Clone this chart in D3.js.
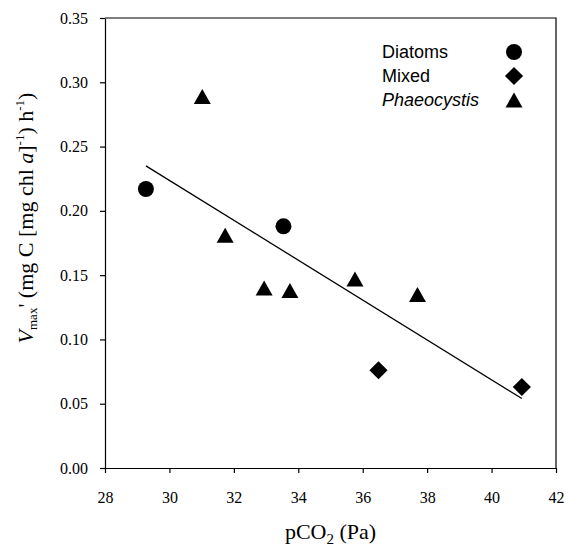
<!DOCTYPE html>
<html>
<head>
<meta charset="utf-8">
<script src="https://cdn.jsdelivr.net/npm/d3@7"></script>
<style>
  body { margin: 0; background: #fff; }
  svg { display: block; }
</style>
</head>
<body>
<div id="chart"></div>
<script>

  // values
  var diatomsX = [29.27, 33.54];
  var diatomsY = [0.217, 0.188];
  var mixedX = [36.49, 40.94];
  var mixedY = [0.076, 0.063];
  var phaeoX = [31.02, 31.73, 32.94, 33.74, 35.76, 37.70];
  var phaeoY = [0.289, 0.181, 0.140, 0.138, 0.147, 0.135];
  var fitX = [29.27, 40.94];
  var fitY = [0.235, 0.054];

  var xTicks = [28, 30, 32, 34, 36, 38, 40, 42];
  var yTicks = [0, 0.05, 0.10, 0.15, 0.20, 0.25, 0.30, 0.35];
  var legendLabels = ["Diatoms", "Mixed", "Phaeocystis"];

  var serif = "'Liberation Serif', 'Times New Roman', serif";

  var width = 566, height = 547;
  var margin = { top: 18, right: 10, bottom: 79, left: 105 };
  var iwidth = width - margin.left - margin.right,
      iheight = height - margin.top - margin.bottom;

  var svg = d3.select("#chart")
    .append("svg")
    .attr("width", width)
    .attr("height", height);

  var g = svg.append("g")
    .attr("transform", `translate(${margin.left}, ${margin.top})`);

  var x = d3.scaleLinear().domain([28, 42]).range([0, iwidth]);
  var y = d3.scaleLinear().domain([0, 0.35]).range([iheight, 0]);

  // frame (top + right)
  g.append("path")
    .attr("d", `M0,0H${iwidth}V${iheight}`)
    .attr("fill", "none")
    .attr("stroke", "#000")
    .attr("stroke-width", 1.2);

  //=========================================================================
  // Axes
  //=========================================================================
  var xAxis = g.append("g")
    .attr("transform", `translate(0, ${iheight})`)
    .call(d3.axisBottom(x).tickValues(xTicks).tickSize(5).tickSizeOuter(0).tickPadding(19));

  var yAxis = g.append("g")
    .call(d3.axisLeft(y).tickValues(yTicks).tickSize(5).tickSizeOuter(0).tickPadding(12)
      .tickFormat(d3.format(".2f")));

  [xAxis, yAxis].forEach(function(a){
    a.attr("font-family", null).attr("font-size", null);
    a.selectAll("path, line").attr("stroke", "#000").attr("stroke-width", 1.2);
    a.selectAll("text")
      .attr("fill", "#000")
      .style("font-family", serif)
      .style("font-size", "16px");
  });

  //=========================================================================
  // Symbols
  //=========================================================================
  function trianglePath(s, h){
    return `M0,${-h/2}L${s/2},${h/2}L${-s/2},${h/2}Z`;
  }
  var circlePath = d3.symbol().type(d3.symbolCircle).size(Math.PI * 64)();
  var diamondPath = d3.symbol().type(d3.symbolSquare).size(165)();
  var triPath = trianglePath(17, 15);

  function drawSymbols(xs, ys, kind){
    var pts = xs.map(function(v, i){ return [v, ys[i]]; });
    g.append("g").selectAll("path")
      .data(pts)
      .enter()
      .append("path")
      .attr("d", kind == "circle" ? circlePath : kind == "diamond" ? diamondPath : triPath)
      .attr("transform", function(d){
        var t = `translate(${x(d[0])}, ${y(d[1])})`;
        return kind == "diamond" ? t + " rotate(45)" : t;
      })
      .attr("fill", "#000");
  }

  // regression line
  var fit = fitX.map(function(v, i){ return [v, fitY[i]]; });
  g.append("path")
    .datum(fit)
    .attr("d", d3.line().x(function(d){ return x(d[0]); }).y(function(d){ return y(d[1]); }))
    .attr("stroke", "#000")
    .attr("stroke-width", 1.3)
    .attr("fill", "none");

  drawSymbols(diatomsX, diatomsY, "circle");
  drawSymbols(mixedX, mixedY, "diamond");
  drawSymbols(phaeoX, phaeoY, "triangle");

  //=========================================================================
  // Legend
  //=========================================================================
  var legend = svg.append("g");
  var legendKinds = ["circle", "diamond", "triangle"];
  legendLabels.forEach(function(lab, i){
    var yy = 58 + i * 24;
    legend.append("text")
      .attr("x", 382)
      .attr("y", yy)
      .attr("font-family", "Liberation Sans, Arial, sans-serif")
      .attr("font-size", 18)
      .attr("font-style", i == 2 ? "italic" : "normal")
      .text(lab);
    var k = legendKinds[i];
    legend.append("path")
      .attr("d", k == "circle" ? circlePath : k == "diamond" ? diamondPath : triPath)
      .attr("transform", `translate(514, ${yy - 6})` + (k == "diamond" ? " rotate(45)" : ""))
      .attr("fill", "#000");
  });

  //=========================================================================
  // Axis titles
  //=========================================================================
  var xt = svg.append("text")
    .attr("x", margin.left + iwidth / 2)
    .attr("y", 539)
    .attr("text-anchor", "middle")
    .style("font-family", serif)
    .style("font-size", "22px");
  xt.append("tspan").text("pCO");
  xt.append("tspan").attr("dy", 5).style("font-size", "15px").text("2");
  xt.append("tspan").attr("dy", -5).text(" (Pa)");

  var yt = svg.append("text")
    .attr("transform", "translate(33, 218) rotate(-90)")
    .attr("text-anchor", "middle")
    .style("font-family", serif)
    .style("font-size", "22px");
  yt.append("tspan").style("font-style", "italic").text("V");
  yt.append("tspan").attr("dy", 4).style("font-size", "13px").text("max");
  yt.append("tspan").attr("dy", -4).text("' (mg C [mg chl ");
  yt.append("tspan").style("font-style", "italic").text("a");
  yt.append("tspan").text("]");
  yt.append("tspan").attr("dy", -9).style("font-size", "13px").text("-1");
  yt.append("tspan").attr("dy", 9).text(") h");
  yt.append("tspan").attr("dy", -9).style("font-size", "13px").text("-1");
  yt.append("tspan").attr("dy", 9).text(")");

</script>
</body>
</html>
